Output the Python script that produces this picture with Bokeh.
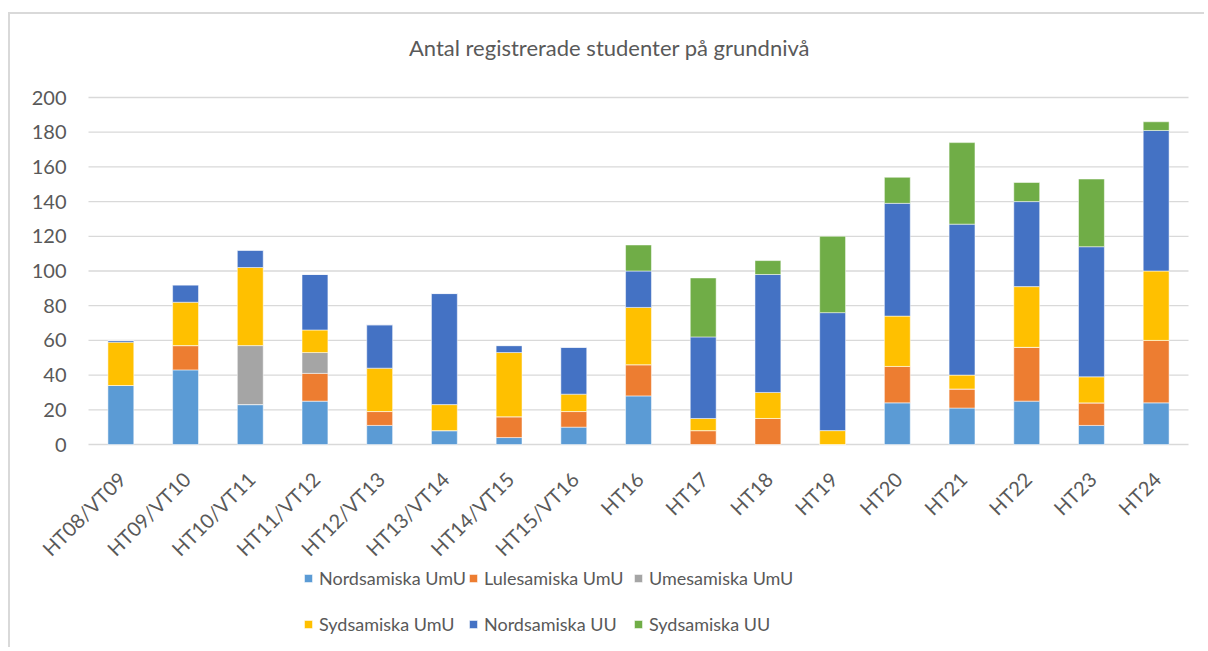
import math
from bokeh.plotting import figure
from bokeh.models import ColumnDataSource, Legend, LegendItem, Label, Range1d
from bokeh.core.properties import value
from bokeh.embed import file_html
from bokeh.resources import INLINE

categories = ["HT08/VT09", "HT09/VT10", "HT10/VT11", "HT11/VT12", "HT12/VT13",
              "HT13/VT14", "HT14/VT15", "HT15/VT16", "HT16", "HT17", "HT18",
              "HT19", "HT20", "HT21", "HT22", "HT23", "HT24"]
nordsamiska_umu = [34, 43, 23, 25, 11, 8, 4, 10, 28, 0, 0, 0, 24, 21, 25, 11, 24]
lulesamiska_umu = [0, 14, 0, 16, 8, 0, 12, 9, 18, 8, 15, 0, 21, 11, 31, 13, 36]
umesamiska_umu = [0, 0, 34, 12, 0, 0, 0, 0, 0, 0, 0, 0, 0, 0, 0, 0, 0]
sydsamiska_umu = [25, 25, 45, 13, 25, 15, 37, 10, 33, 7, 15, 8, 29, 8, 35, 15, 40]
nordsamiska_uu = [1, 10, 10, 32, 25, 64, 4, 27, 21, 47, 68, 68, 65, 87, 49, 75, 81]
sydsamiska_uu = [0, 0, 0, 0, 0, 0, 0, 0, 15, 34, 8, 44, 15, 47, 11, 39, 5]

series_keys = ["s1", "s2", "s3", "s4", "s5", "s6"]
series_labels = ["Nordsamiska UmU", "Lulesamiska UmU", "Umesamiska UmU",
                 "Sydsamiska UmU", "Nordsamiska UU", "Sydsamiska UU"]
colors = ["#5B9BD5", "#ED7D31", "#A5A5A5", "#FFC000", "#4472C4", "#70AD47"]
y_ticks = [0, 20, 40, 60, 80, 100, 120, 140, 160, 180, 200]
title_text = "Antal registrerade studenter på grundnivå"

n = len(categories)
source = ColumnDataSource(dict(
    x=list(range(n)), cat=categories,
    s1=nordsamiska_umu, s2=lulesamiska_umu, s3=umesamiska_umu,
    s4=sydsamiska_umu, s5=nordsamiska_uu, s6=sydsamiska_uu))

FONT = "Lato"
TXT = "#595959"
GRID = "#d9d9d9"

# layout (canvas pixels)
W, H = 1196, 635
PLOT_L, PLOT_R = 78, 1178   # horizontal extent of the plot area
TOP_Y = 83                  # pixel row of value 200
ZERO_Y = 430                # pixel row of value 0
px_per_unit = (ZERO_Y - TOP_Y) / 200.0
cat_w = (PLOT_R - PLOT_L) / n
x_start = -0.5 - PLOT_L / cat_w
x_end = n - 0.5 + (W - PLOT_R) / cat_w
y_max = 200 + TOP_Y / px_per_unit
y_min = -(H - ZERO_Y) / px_per_unit

p = figure(x_range=Range1d(x_start, x_end), y_range=Range1d(y_min, y_max),
           width=W, height=H, output_backend="svg", toolbar_location=None,
           title=None, x_axis_location=None, y_axis_location=None,
           min_border_left=0, min_border_right=0, min_border_top=0,
           min_border_bottom=0)
p.styles = {"margin-left": "8px", "margin-top": "12px",
            "border-top": "2px solid #d9d9d9", "border-left": "2px solid #d9d9d9"}
p.outline_line_color = None
p.grid.visible = False

# horizontal grid lines at the value ticks
p.segment(x0=[-0.5] * len(y_ticks), x1=[n - 0.5] * len(y_ticks),
          y0=y_ticks, y1=y_ticks, line_color=GRID, line_width=1.3)

renderers = p.vbar_stack(series_keys, x="x", width=0.4, color=colors,
                         line_color="white", line_width=0.5, source=source)

# value labels
p.text(x=[-0.5] * len(y_ticks), y=y_ticks, text=[str(t) for t in y_ticks],
       x_offset=-22, text_align="right", text_baseline="middle",
       text_font=value(FONT), text_font_size="20px", text_color=TXT)

# category labels, rotated like the reference
p.text(x="x", y=0, text="cat", source=source, angle=math.pi / 4,
       text_align="right", text_baseline="middle", x_offset=1, y_offset=31,
       text_font=value(FONT), text_font_size="20px", text_color=TXT)

# title
p.add_layout(Label(x=(599 - 110.4) / cat_w, y=200 + (TOP_Y - 33) / px_per_unit,
                   text=title_text, text_font=FONT, text_font_size="22px",
                   text_color=TXT, text_align="center", text_baseline="middle"))

# legend laid out column-major; reorder so rows read like the reference
order = [0, 3, 1, 4, 2, 5]
items = [LegendItem(label=series_labels[i], renderers=[renderers[i]]) for i in order]
legend = Legend(items=items, ncols=3, location=(293, 2),
                label_text_font=FONT, label_text_font_size="18px",
                label_text_color=TXT, glyph_width=10, glyph_height=10,
                label_standoff=6, spacing=0, label_height=46, label_width=149,
                padding=0, margin=0,
                border_line_color=None, background_fill_alpha=0)
p.add_layout(legend, "center")

open("out.html", "w").write(file_html(p, INLINE))
